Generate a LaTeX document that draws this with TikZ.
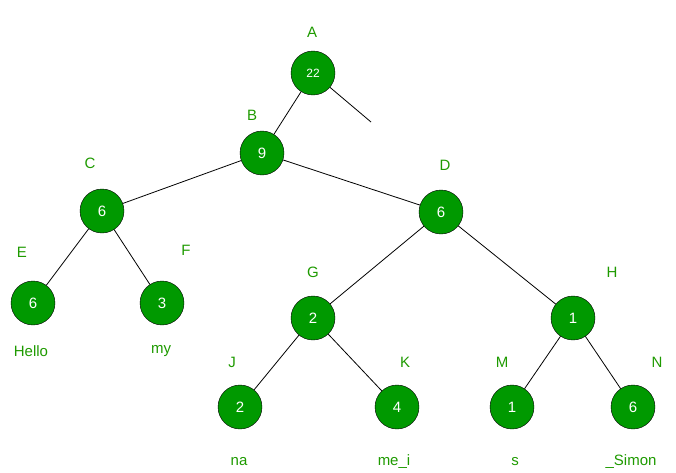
\documentclass[tikz,border=0pt]{standalone}
\usepackage{fontspec}
\setmainfont{Liberation Sans}
\definecolor{treegreen}{HTML}{009900}
\definecolor{labgreen}{HTML}{1E9A00}
\begin{document}
\begin{tikzpicture}[x=1pt,y=-1pt]
\useasboundingbox (0,0) rectangle (676,472);
\begin{scope}[every node/.style={circle,draw=black,fill=treegreen,text=white,
              minimum size=44pt,inner sep=0pt,font=\fontsize{15}{15}\selectfont}]
    \node (A) at (313,73) {\fontsize{12}{12}\selectfont 22};
    \node (B) at (262,153) {9};
    \node (C) at (102,211) {6};
    \node (D) at (441,212) {6};
    \node (E) at (33,303) {6};
    \node (F) at (162,303) {3};
    \node (G) at (313,318) {2};
    \node (H) at (573,318) {1};
    \node (J) at (240,407) {2};
    \node (K) at (397,407) {4};
    \node (M) at (512,407) {1};
    \node (N) at (633,407) {6};
\end{scope}
\coordinate (Aright) at (371,122);

\begin{scope}[every node/.style={text=labgreen,font=\fontsize{15}{15}\selectfont}]
    \node (lA) at (312,32) {A};
    \node (lB) at (252,115) {B};
    \node (lC) at (90,163) {C};
    \node (lD) at (445,165) {D};
    \node (lE) at (22,252) {E};
    \node (lF) at (186,250) {F};
    \node (lG) at (313,272) {G};
    \node (lH) at (612,272) {H};
    \node (lJ) at (232,362) {J};
    \node (lK) at (405,362) {K};
    \node (lM) at (502,362) {M};
    \node (lN) at (657,362) {N};
    \node (wE) at (31,351) {Hello};
    \node (wF) at (161,351) {my};
    \node (wJ) at (239,462) {na};
    \node (wK) at (394,462) {me\_i};
    \node (wM) at (515,462) {s};
    \node (wN) at (631,462) {\_Simon};
\end{scope}

\begin{scope}[every path/.style={draw=black,thick}]
    \draw (A) -- (B);
    \draw (A) -- (Aright);
    \draw (B) -- (C);
    \draw (B) -- (D);
    \draw (C) -- (E);
    \draw (C) -- (F);
    \draw (D) -- (G);
    \draw (D) -- (H);
    \draw (G) -- (J);
    \draw (G) -- (K);
    \draw (H) -- (M);
    \draw (H) -- (N);
\end{scope}
\end{tikzpicture}
\end{document}
